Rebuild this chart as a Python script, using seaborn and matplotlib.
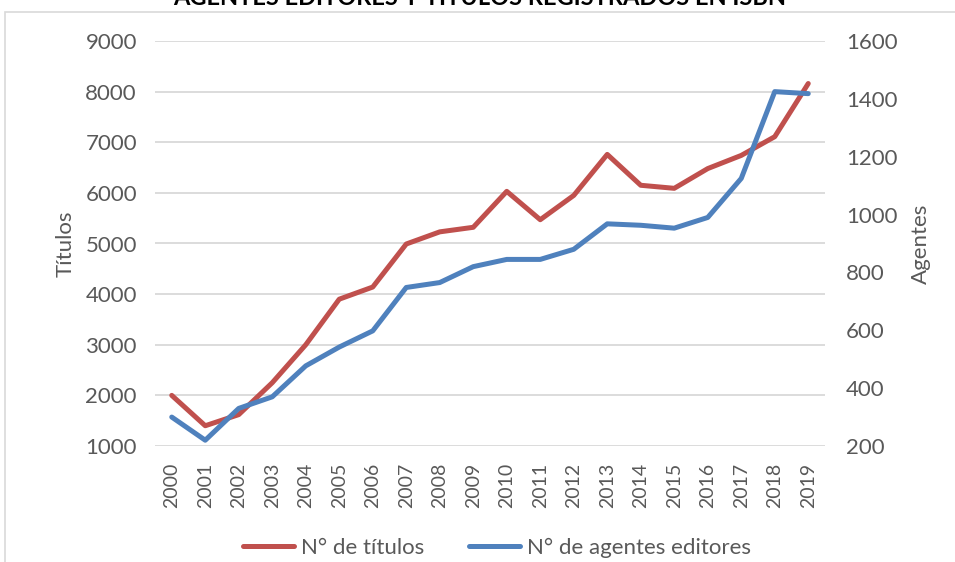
import matplotlib
matplotlib.use("Agg")
import matplotlib.pyplot as plt
import matplotlib.patches as mpatches
import seaborn as sns
import pandas as pd

# -------- data --------
years = list(range(2000, 2020))
titulos = [2000, 1400, 1620, 2250, 3000, 3900, 4140, 4990, 5230, 5320,
           6030, 5470, 5950, 6760, 6150, 6090, 6480, 6740, 7110, 8160]
agentes = [300, 220, 330, 370, 477, 542, 598, 748, 765, 820,
           845, 845, 880, 968, 963, 953, 990, 1125, 1425, 1418]

RED = "#C0504D"
BLUE = "#4F81BD"
GREY = "#595959"
GRID = "#D9D9D9"

df = pd.DataFrame({"year": years, "titulos": titulos, "agentes": agentes})

# -------- plotting --------
sns.set_theme(style="white")
plt.rcParams["font.family"] = ["Lato", "DejaVu Sans"]

fig = plt.figure(figsize=(9.55, 5.62), dpi=100)
ax = fig.add_axes([155 / 955, 1 - 446 / 562, 670 / 955, 405 / 562])
ax2 = ax.twinx()

sns.lineplot(data=df, x="year", y="titulos", ax=ax, color=RED, linewidth=3.6,
             solid_capstyle="round", label="N° de títulos", legend=False)
sns.lineplot(data=df, x="year", y="agentes", ax=ax2, color=BLUE, linewidth=3.6,
             solid_capstyle="round", label="N° de agentes editores", legend=False)

ax.set_xlim(1999.5, 2019.5)
ax.set_ylim(1000, 9000)
ax.set_yticks(range(1000, 9001, 1000))
ax2.set_ylim(200, 1600)
ax2.set_yticks(range(200, 1601, 200))
ax.set_xticks(years)
ax.set_xticklabels([str(y) for y in years], rotation=90)

ax.yaxis.grid(True, color=GRID, linewidth=1.3)
ax.xaxis.grid(False)
ax2.grid(False)
for a in (ax, ax2):
    for s in a.spines.values():
        s.set_visible(False)
    a.tick_params(length=0, colors=GREY)
ax.tick_params(axis="y", labelsize=16, pad=13)
ax.tick_params(axis="x", labelsize=14, pad=12)
ax2.tick_params(axis="y", labelsize=16, pad=15)

ax.set_xlabel("")
ax.set_ylabel("Títulos", fontsize=16, color=GREY, labelpad=7)
ax2.set_ylabel("Agentes", fontsize=16, color=GREY, labelpad=10)

# chart frame and cut-off title (as in the source image)
fig.patches.append(mpatches.Rectangle((5 / 955, -0.1), 1.2, 1 - 12 / 562 + 0.1,
                                      transform=fig.transFigure, fill=False,
                                      edgecolor=GRID, linewidth=1.2))
fig.text(480 / 955, 1 - 5 / 562, "AGENTES EDITORES Y TÍTULOS REGISTRADOS EN ISBN",
         ha="center", va="baseline", fontsize=17, fontweight="bold", color="#000000")

h1, l1 = ax.get_legend_handles_labels()
h2, l2 = ax2.get_legend_handles_labels()
fig.legend(h1 + h2, l1 + l2, loc="center", bbox_to_anchor=(497 / 955, 1 - 548 / 562),
           ncol=2, frameon=False, fontsize=16, labelcolor=GREY,
           handlelength=2.3, handletextpad=0.3, columnspacing=2.0)

fig.savefig("out.png", dpi=100)
